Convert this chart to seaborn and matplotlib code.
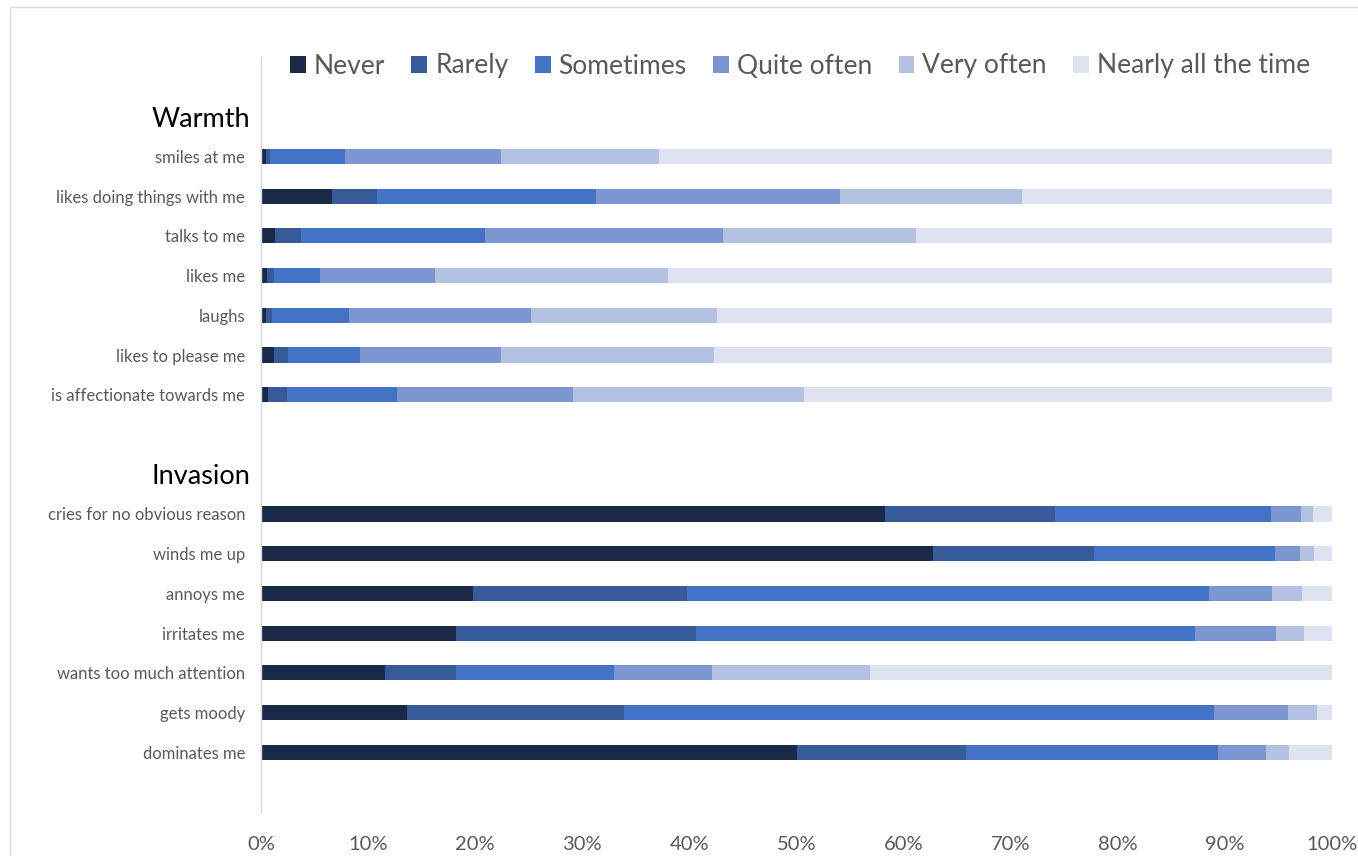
import numpy as np
import pandas as pd
import matplotlib
matplotlib.use("Agg")
import matplotlib.pyplot as plt
from matplotlib.patches import Patch, Rectangle
import seaborn as sns

# Items of the two scales
warmth_items = [
    "smiles at me",
    "likes doing things with me",
    "talks to me",
    "likes me",
    "laughs",
    "likes to please me",
    "is affectionate towards me",
]
invasion_items = [
    "cries for no obvious reason",
    "winds me up",
    "annoys me",
    "irritates me",
    "wants too much attention",
    "gets moody",
    "dominates me",
]
levels = ["Never", "Rarely", "Sometimes", "Quite often", "Very often", "Nearly all the time"]

# Percentage of answers per response level (warmth items first, then invasion items)
never       = [0.5, 6.6, 1.3, 0.6, 0.5, 1.2, 0.7,   58.3, 62.7, 19.8, 18.2, 11.6, 13.6, 50.0]
rarely      = [0.3, 4.2, 2.4, 0.6, 0.5, 1.3, 1.7,   15.8, 15.1, 20.0, 22.4, 6.6, 20.3, 15.8]
sometimes   = [7.0, 20.5, 17.2, 4.3, 7.2, 6.7, 10.3, 20.2, 16.9, 48.7, 46.6, 14.8, 55.1, 23.6]
quite_often = [14.6, 22.8, 22.2, 10.7, 17.0, 13.2, 16.4, 2.8, 2.3, 5.9, 7.6, 9.1, 6.9, 4.4]
very_often  = [14.8, 17.0, 18.1, 21.8, 17.4, 19.9, 21.6, 1.1, 1.3, 2.8, 2.6, 14.8, 2.7, 2.2]
nearly_all  = [62.8, 28.9, 38.8, 62.0, 57.4, 57.7, 49.3, 1.8, 1.7, 2.8, 2.6, 43.1, 1.4, 4.0]

colors = ["#1b2948", "#375b99", "#4472c4", "#7b96d0", "#b4c1e2", "#dfe2f1"]

items = warmth_items + invasion_items
shares = np.array([never, rarely, sometimes, quite_often, very_often, nearly_all]).T
cumulative = pd.DataFrame(shares.cumsum(axis=1), columns=levels)
cumulative["item"] = items
long = cumulative.melt(id_vars="item", var_name="level", value_name="cum")

# Row layout: blank row, heading, items, blank, heading, items, blank
rows = ["_top", "Warmth", *warmth_items, "_gap", "Invasion", *invasion_items, "_end"]
row_labels = ["" if r.startswith("_") else r for r in rows]
headings = {"Warmth", "Invasion"}

sns.set_theme(style="white")
plt.rcParams["font.family"] = ["Lato", "DejaVu Sans"]

fig = plt.figure(figsize=(13.58, 8.56), dpi=100)
ax = fig.add_axes([261 / 1358, 44 / 856, 1071 / 1358, 755 / 856])

# Stacked bars: draw the cumulative totals from the longest to the shortest
for level, color in reversed(list(zip(levels, colors))):
    sns.barplot(
        data=long[long["level"] == level], x="cum", y="item", order=rows,
        orient="h", color=color, saturation=1, width=0.38, errorbar=None,
        linewidth=0, ax=ax,
    )

ax.set_xlim(0, 100)
ax.set_ylim(len(rows) - 0.5, -0.5)
ax.set_xticks(np.arange(0, 101, 10))
ax.set_xticklabels([f"{v}%" for v in range(0, 101, 10)])
ax.set_yticks(range(len(rows)))
ax.set_yticklabels(row_labels)
ax.set_xlabel("")
ax.set_ylabel("")

ax.tick_params(axis="x", length=0, pad=17, labelsize=14.5, labelcolor="#595959")
ax.tick_params(axis="y", length=0, pad=11.5, labelsize=12, labelcolor="#595959")
for tick, name in zip(ax.yaxis.get_major_ticks(), rows):
    if name in headings:
        tick.set_pad(8)
        tick.label1.set_fontsize(19.5)
        tick.label1.set_color("black")

for side in ("top", "right", "bottom"):
    ax.spines[side].set_visible(False)
ax.spines["left"].set_color("#d9d9d9")
ax.spines["left"].set_linewidth(1)

handles = [Patch(facecolor=c, edgecolor="none") for c in colors]
fig.legend(
    handles, levels, loc="center", bbox_to_anchor=(800 / 1358, 1 - 66 / 856),
    ncol=6, frameon=False, fontsize=19, labelcolor="#595959",
    handlelength=0.6, handleheight=0.6, handletextpad=0.3, columnspacing=1.0,
)

# Light outer frame of the chart area
fig.patches.append(Rectangle((10 / 1358, -0.5), 2, 0.5 + (856 - 7) / 856,
                             transform=fig.transFigure, fill=False,
                             edgecolor="#d9d9d9", linewidth=1))

fig.savefig("out.png", dpi=100, facecolor="white")
